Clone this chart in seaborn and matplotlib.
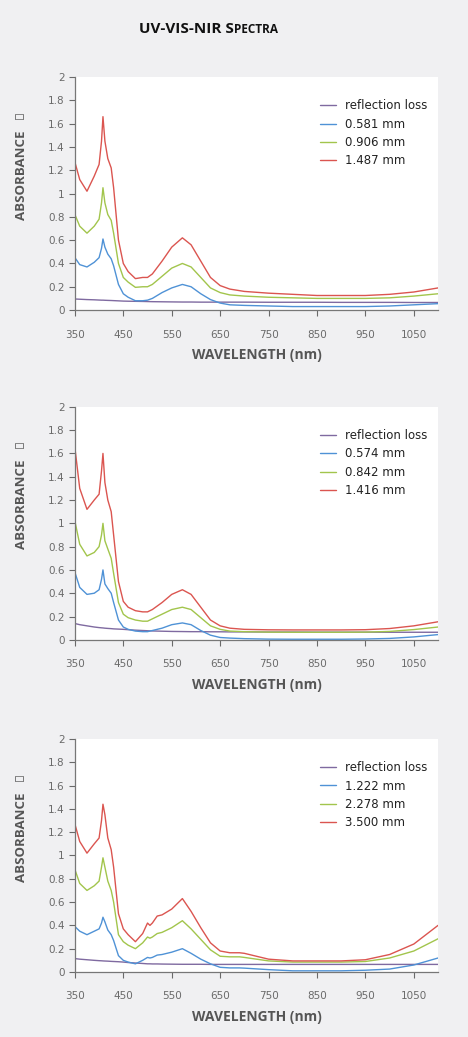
import matplotlib
matplotlib.use("Agg")
import matplotlib.pyplot as plt
import seaborn as sns
import pandas as pd

wl = [350,360,375,390,400,405,408,412,418,425,430,440,450,460,475,490,500,510,530,550,572,590,610,630,650,670,700,750,800,850,900,950,1000,1050,1100]
p1_labels = ["reflection loss", "0.581 mm", "0.906 mm", "1.487 mm"]
p1_refl = [0.095,0.093,0.09,0.088,0.086,0.085,0.085,0.084,0.083,0.082,0.081,0.079,0.077,0.076,0.075,0.074,0.073,0.072,0.071,0.07,0.069,0.069,0.068,0.068,0.068,0.068,0.068,0.067,0.067,0.067,0.066,0.066,0.066,0.065,0.065]
p1_a = [0.45,0.39,0.37,0.41,0.45,0.53,0.61,0.54,0.48,0.44,0.38,0.22,0.14,0.11,0.08,0.08,0.085,0.10,0.15,0.19,0.22,0.20,0.14,0.09,0.06,0.045,0.04,0.035,0.03,0.03,0.03,0.03,0.035,0.045,0.055]
p1_b = [0.82,0.72,0.66,0.72,0.78,0.92,1.05,0.92,0.82,0.77,0.66,0.40,0.28,0.24,0.195,0.20,0.20,0.22,0.29,0.36,0.40,0.37,0.28,0.19,0.15,0.13,0.12,0.11,0.105,0.10,0.10,0.10,0.105,0.12,0.14]
p1_c = [1.27,1.12,1.02,1.15,1.25,1.45,1.66,1.45,1.30,1.22,1.05,0.60,0.40,0.33,0.27,0.28,0.28,0.31,0.42,0.54,0.62,0.56,0.42,0.28,0.21,0.18,0.16,0.145,0.135,0.125,0.125,0.125,0.135,0.155,0.19]

p2_labels = ["reflection loss", "0.574 mm", "0.842 mm", "1.416 mm"]
p2_refl = [0.14,0.13,0.12,0.11,0.105,0.103,0.102,0.1,0.098,0.096,0.094,0.092,0.09,0.087,0.083,0.08,0.078,0.076,0.074,0.072,0.071,0.07,0.07,0.069,0.069,0.068,0.068,0.067,0.067,0.066,0.066,0.066,0.065,0.065,0.065]
p2_a = [0.58,0.45,0.39,0.40,0.43,0.52,0.60,0.48,0.44,0.40,0.32,0.17,0.11,0.09,0.075,0.07,0.07,0.08,0.10,0.13,0.145,0.13,0.08,0.04,0.02,0.015,0.01,0.006,0.005,0.005,0.005,0.007,0.012,0.025,0.045]
p2_b = [1.02,0.82,0.72,0.75,0.80,0.90,1.00,0.85,0.78,0.70,0.57,0.32,0.22,0.19,0.17,0.16,0.16,0.18,0.22,0.26,0.28,0.26,0.19,0.12,0.09,0.075,0.07,0.066,0.065,0.065,0.065,0.066,0.072,0.088,0.11]
p2_c = [1.65,1.30,1.12,1.20,1.25,1.45,1.60,1.35,1.20,1.10,0.90,0.50,0.33,0.28,0.25,0.24,0.24,0.26,0.32,0.39,0.43,0.39,0.28,0.17,0.12,0.10,0.09,0.086,0.085,0.085,0.085,0.087,0.097,0.12,0.155]

wl3 = [350,360,375,390,400,405,408,412,418,425,430,440,450,460,475,490,500,505,510,520,530,550,572,590,610,630,650,670,690,700,750,800,850,900,950,1000,1050,1100]
p3_labels = ["reflection loss", "1.222 mm", "2.278 mm", "3.500 mm"]
p3_refl = [0.115,0.11,0.105,0.1,0.097,0.096,0.095,0.094,0.093,0.091,0.09,0.088,0.085,0.081,0.077,0.073,0.07,0.07,0.069,0.069,0.068,0.067,0.066,0.066,0.066,0.065,0.065,0.065,0.065,0.065,0.065,0.065,0.065,0.065,0.065,0.065,0.065,0.065]
p3_a = [0.39,0.35,0.32,0.35,0.37,0.42,0.47,0.43,0.36,0.32,0.27,0.14,0.10,0.085,0.07,0.10,0.125,0.12,0.125,0.145,0.15,0.17,0.20,0.16,0.11,0.07,0.04,0.035,0.035,0.033,0.02,0.01,0.01,0.01,0.015,0.025,0.06,0.12]
p3_b = [0.88,0.76,0.70,0.74,0.78,0.90,0.98,0.90,0.78,0.70,0.60,0.32,0.26,0.23,0.20,0.25,0.30,0.29,0.30,0.33,0.34,0.38,0.44,0.37,0.28,0.19,0.135,0.13,0.13,0.125,0.095,0.085,0.085,0.085,0.09,0.12,0.18,0.285]
p3_c = [1.27,1.12,1.02,1.10,1.15,1.30,1.44,1.35,1.15,1.05,0.90,0.50,0.37,0.32,0.26,0.33,0.42,0.40,0.42,0.48,0.49,0.54,0.63,0.52,0.38,0.25,0.18,0.165,0.165,0.16,0.11,0.095,0.095,0.095,0.105,0.15,0.24,0.40]

colors = ["#7f6aa0", "#4f92d6", "#a2c54c", "#db5550"]
xticks = [350,450,550,650,750,850,950,1050]
yticks = [0,0.2,0.4,0.6,0.8,1,1.2,1.4,1.6,1.8,2]
ytick_labels = ["0","0.2","0.4","0.6","0.8","1","1.2","1.4","1.6","1.8","2"]

sns.set_style("white")
fig = plt.figure(figsize=(4.68,10.37), dpi=100, facecolor="#f0f0f2")
fig.text(0.5, 0.968, "UV-VIS-NIR S", ha="right", va="baseline", fontsize=11, fontweight="bold", color="#111111", family="Open Sans")
fig.text(0.5, 0.968, "PECTRA", ha="left", va="baseline", fontsize=8.5, fontweight="bold", color="#111111", family="Open Sans")

panels = [
    (0.701, wl, p1_labels, [p1_refl,p1_a,p1_b,p1_c]),
    (0.383, wl, p2_labels, [p2_refl,p2_a,p2_b,p2_c]),
    (0.0627, wl3, p3_labels, [p3_refl,p3_a,p3_b,p3_c]),
]
gray = "#6a6a6a"
for bottom, x, labels, series in panels:
    ax = fig.add_axes([0.16, bottom, 0.776, 0.2247])
    rows = []
    for lab, vals in zip(labels, series):
        for xi, yi in zip(x, vals):
            rows.append({"wl": xi, "abs": yi, "s": lab})
    df = pd.DataFrame(rows)
    sns.lineplot(data=df, x="wl", y="abs", hue="s", hue_order=labels, palette=colors, linewidth=1.0, ax=ax)
    ax.set_xlim(350,1100); ax.set_ylim(0,2)
    ax.set_xticks(xticks); ax.set_yticks(yticks); ax.set_yticklabels(ytick_labels)
    ax.tick_params(axis="both", labelsize=7.5, colors=gray, length=4, width=0.8, direction="out", left=True, bottom=True)
    ax.tick_params(axis="x", pad=10)
    for s in ["top","right"]:
        ax.spines[s].set_visible(False)
    for s in ["left","bottom"]:
        ax.spines[s].set_color("#777777"); ax.spines[s].set_linewidth(0.9)
    ax.set_xlabel("WAVELENGTH (nm)", fontsize=10, fontweight="bold", color="#555555", labelpad=6, family="Open Sans")
    ax.set_ylabel("ABSORBANCE   \u2192", fontsize=9.5, fontweight="bold", color="#555555", labelpad=8, family="Open Sans")
    ax.yaxis.set_label_coords(-0.13, 0.62)
    leg = ax.legend(loc="upper right", frameon=False, fontsize=8.5, handlelength=1.3, bbox_to_anchor=(1.0, 0.95), labelspacing=0.45)
    for t in leg.get_texts():
        t.set_color("#222222")
fig.savefig("out.png", dpi=100, facecolor=fig.get_facecolor())
